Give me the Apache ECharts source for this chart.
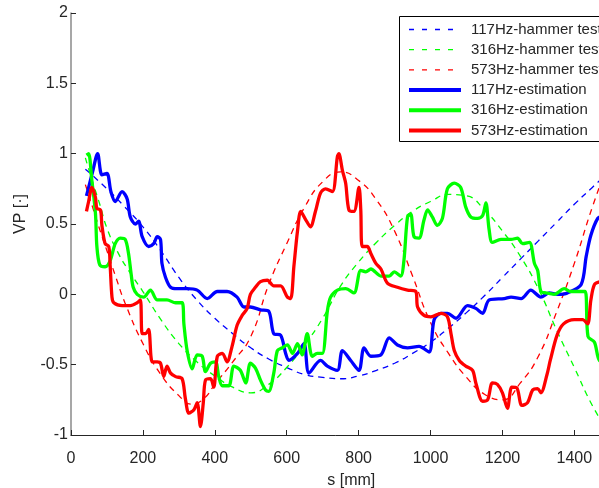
<!DOCTYPE html>
<html>
<head>
<meta charset="utf-8">
<script src="https://cdn.jsdelivr.net/npm/echarts@6/dist/echarts.min.js"></script>
<style>
html,body{margin:0;padding:0;background:#fff;}
#chart{width:599px;height:488px;}
</style>
</head>
<body>
<div id="chart"></div>
<script>
// ---- Data ----
var seriesNames = ['117Hz-hammer test','316Hz-hammer test','573Hz-hammer test','117Hz-estimation','316Hz-estimation','573Hz-estimation'];
var yTicks = [-1, -0.5, 0, 0.5, 1, 1.5, 2];
var xTicks = [0, 200, 400, 600, 800, 1000, 1200, 1400];

var blueTest = [[40,0.89],[100,0.75],[150,0.62],[200,0.48],[250,0.31],[300,0.12],[350,-0.04],[400,-0.17],[450,-0.28],[500,-0.38],[550,-0.46],[600,-0.52],[650,-0.57],[700,-0.59],[750,-0.60],[800,-0.58],[850,-0.54],[900,-0.49],[950,-0.42],[1000,-0.34],[1050,-0.24],[1100,-0.13],[1150,-0.01],[1200,0.12],[1250,0.25],[1300,0.38],[1350,0.51],[1400,0.64],[1450,0.76],[1500,0.88]];

var greenTest = [[40,0.97],[60,0.80],[80,0.64],[100,0.47],[130,0.30],[160,0.17],[200,0.02],[250,-0.18],[300,-0.35],[350,-0.48],[400,-0.58],[450,-0.66],[500,-0.70],[550,-0.64],[600,-0.52],[650,-0.36],[700,-0.17],[750,0.06],[800,0.23],[850,0.37],[900,0.49],[950,0.59],[1000,0.66],[1050,0.71],[1100,0.70],[1150,0.60],[1200,0.45],[1250,0.27],[1300,0.04],[1350,-0.25],[1400,-0.52],[1450,-0.79],[1500,-1.0]];

var redTest = [[40,0.78],[60,0.62],[80,0.46],[100,0.31],[125,0.12],[150,-0.06],[200,-0.35],[250,-0.57],[300,-0.72],[335,-0.78],[370,-0.74],[400,-0.64],[450,-0.48],[500,-0.30],[550,0.07],[600,0.36],[650,0.62],[700,0.80],[750,0.87],[800,0.81],[850,0.67],[900,0.45],[950,0.13],[1000,-0.20],[1050,-0.42],[1100,-0.59],[1150,-0.71],[1200,-0.75],[1250,-0.63],[1300,-0.44],[1350,-0.13],[1400,0.22],[1450,0.62],[1500,0.97]];

var blueEst = [[43,0.70],[60,0.87],[74,1.00],[86,0.85],[100,0.86],[111,0.73],[123,0.66],[142,0.73],[156,0.68],[165,0.55],[179,0.50],[188,0.52],[198,0.41],[216,0.34],[230,0.36],[240,0.41],[249,0.39],[253,0.22],[263,0.12],[277,0.05],[295,0.04],[323,0.04],[351,0.03],[379,-0.03],[407,0.02],[434,0.02],[462,-0.02],[481,-0.09],[499,-0.09],[527,-0.11],[550,-0.12],[564,-0.28],[583,-0.29],[597,-0.42],[606,-0.47],[630,-0.42],[648,-0.35],[662,-0.56],[694,-0.47],[713,-0.51],[741,-0.54],[755,-0.40],[778,-0.47],[801,-0.54],[815,-0.38],[834,-0.44],[862,-0.43],[885,-0.31],[908,-0.36],[936,-0.38],[968,-0.37],[996,-0.41],[1010,-0.18],[1029,-0.135],[1047,-0.135],[1071,-0.17],[1103,-0.08],[1126,-0.10],[1145,-0.135],[1163,-0.04],[1205,-0.03],[1224,-0.02],[1252,-0.03],[1279,0.03],[1307,-0.02],[1330,0.01],[1354,0.00],[1381,0.01],[1419,0.07],[1433,0.27],[1446,0.42],[1465,0.54],[1480,0.56],[1500,0.60]];

var greenEst = [[43,0.99],[49,1.00],[58,0.81],[68,0.575],[72,0.34],[80,0.21],[95,0.196],[109,0.24],[123,0.36],[137,0.40],[151,0.39],[160,0.29],[167,0.15],[173,0.05],[184,0.00],[202,-0.02],[221,0.03],[240,-0.04],[267,-0.04],[291,-0.06],[309,-0.06],[314,-0.21],[323,-0.40],[337,-0.53],[351,-0.43],[365,-0.44],[374,-0.55],[388,-0.49],[402,-0.48],[411,-0.585],[421,-0.65],[439,-0.65],[453,-0.51],[471,-0.54],[486,-0.63],[499,-0.49],[513,-0.525],[527,-0.61],[541,-0.68],[550,-0.69],[564,-0.56],[574,-0.40],[588,-0.38],[602,-0.36],[616,-0.42],[630,-0.35],[643,-0.43],[657,-0.28],[671,-0.44],[685,-0.42],[699,-0.42],[713,-0.12],[722,-0.02],[741,0.03],[764,0.04],[787,0.01],[806,0.17],[820,0.16],[834,0.18],[862,0.13],[885,0.13],[899,0.16],[917,0.13],[926,0.24],[936,0.55],[945,0.57],[954,0.41],[968,0.40],[982,0.53],[992,0.60],[1005,0.55],[1019,0.49],[1033,0.54],[1047,0.75],[1066,0.79],[1084,0.76],[1098,0.62],[1112,0.55],[1131,0.54],[1145,0.56],[1154,0.65],[1163,0.46],[1172,0.37],[1196,0.39],[1224,0.39],[1242,0.40],[1256,0.36],[1275,0.37],[1289,0.22],[1298,0.17],[1307,0.02],[1321,0.01],[1344,0.00],[1372,0.04],[1390,0.02],[1413,0.02],[1430,0.02],[1438,-0.30],[1456,-0.34],[1470,-0.47],[1500,-0.50]];

var redEst = [[43,0.59],[49,0.66],[58,0.76],[68,0.69],[72,0.61],[82,0.60],[86,0.49],[95,0.36],[105,0.34],[109,0.20],[114,-0.02],[119,-0.06],[142,-0.08],[165,-0.08],[184,-0.06],[193,-0.04],[198,-0.28],[207,-0.28],[216,-0.25],[226,-0.48],[240,-0.48],[249,-0.49],[258,-0.585],[267,-0.51],[277,-0.56],[291,-0.585],[309,-0.60],[318,-0.74],[328,-0.845],[342,-0.82],[351,-0.77],[360,-0.94],[368,-0.77],[374,-0.61],[388,-0.60],[397,-0.66],[407,-0.44],[421,-0.42],[434,-0.48],[448,-0.37],[462,-0.22],[476,-0.15],[490,-0.10],[499,0.00],[513,0.05],[527,0.09],[546,0.10],[564,0.06],[583,0.06],[602,-0.02],[611,-0.03],[620,0.20],[630,0.45],[639,0.59],[653,0.53],[666,0.48],[680,0.59],[694,0.72],[708,0.75],[727,0.73],[741,0.98],[745,1.00],[755,0.88],[764,0.79],[773,0.60],[787,0.59],[801,0.76],[806,0.60],[810,0.34],[824,0.34],[834,0.29],[848,0.22],[862,0.18],[880,0.08],[908,0.05],[936,0.03],[959,0.02],[964,-0.09],[982,-0.15],[1001,-0.16],[1029,-0.135],[1047,-0.16],[1057,-0.28],[1066,-0.40],[1080,-0.47],[1098,-0.51],[1117,-0.54],[1126,-0.63],[1145,-0.76],[1159,-0.75],[1172,-0.63],[1186,-0.64],[1200,-0.70],[1214,-0.81],[1226,-0.66],[1240,-0.665],[1254,-0.79],[1270,-0.77],[1284,-0.68],[1298,-0.67],[1307,-0.70],[1324,-0.57],[1333,-0.47],[1352,-0.29],[1370,-0.21],[1400,-0.18],[1423,-0.18],[1437,-0.21],[1446,-0.04],[1456,0.07],[1472,0.09],[1500,0.10]];

// ---- Chart ----
var FONT = '"Liberation Sans", Arial, Helvetica, sans-serif';
var TXT = '#262626';
var COLORS = ['#0000ff', '#00ff00', '#ff0000', '#0000ff', '#00ff00', '#ff0000'];
var chart = echarts.init(document.getElementById('chart'), null, {renderer: 'canvas'});

function dashed(name, data, color) {
  return {name: name, type: 'line', data: data, smooth: true, symbol: 'none', showSymbol: false,
    lineStyle: {color: color, width: 1.3, type: [6, 5]}, itemStyle: {color: color}, z: 2};
}
function solid(name, data, color) {
  return {name: name, type: 'line', data: data, smooth: 0.3, symbol: 'none', showSymbol: false,
    lineStyle: {color: color, width: 3.3}, itemStyle: {color: color}, z: 3};
}

var legendData = seriesNames.map(function (n, i) {
  var isDash = i < 3;
  return {
    name: n,
    itemStyle: {opacity: 0},
    lineStyle: isDash ? {width: 1.3, type: [5, 8], color: COLORS[i]} : {width: 4, type: 'solid', color: COLORS[i]}
  };
});

var option = {
  animation: false,
  backgroundColor: '#ffffff',
  textStyle: {fontFamily: FONT},
  grid: {left: 71, top: 13, width: 528.5, height: 422, containLabel: false, outerBoundsMode: 'none'},
  xAxis: {
    type: 'value', min: 0, max: 1470, interval: 200,
    name: 's [mm]', nameLocation: 'middle', nameGap: 38,
    nameTextStyle: {fontSize: 16, color: TXT, fontFamily: FONT, padding: [0, 0, 0, 32]},
    axisLine: {show: true, onZero: false, lineStyle: {color: TXT, width: 1}},
    axisTick: {show: true, inside: true, length: 5, lineStyle: {color: TXT}},
    axisLabel: {fontSize: 16, color: TXT, margin: 16, fontFamily: FONT, showMaxLabel: false,
      formatter: function (v) { return xTicks.indexOf(v) >= 0 ? String(v) : ''; }},
    splitLine: {show: false}
  },
  yAxis: {
    type: 'value', min: yTicks[0], max: yTicks[yTicks.length - 1], interval: 0.5,
    name: 'VP [·]', nameLocation: 'middle', nameGap: 42, nameRotate: 90,
    nameTextStyle: {fontSize: 16, color: TXT, fontFamily: FONT, padding: [0, 0, 0, 20]},
    axisLine: {show: true, onZero: false, lineStyle: {color: '#8a8a8a', width: 1.5}},
    axisTick: {show: true, inside: true, length: 5, lineStyle: {color: TXT}},
    axisLabel: {fontSize: 16, color: TXT, margin: 3, fontFamily: FONT, padding: [8, 0, 0, 0]},
    splitLine: {show: false}
  },
  legend: {
    data: legendData,
    orient: 'vertical', left: 399, top: 16,
    itemWidth: 52, itemHeight: 14, itemGap: 5.2,
    padding: [6, 8, 5, 8],
    textStyle: {fontSize: 15, color: TXT, fontFamily: FONT, padding: [0, 0, 0, 5]},
    selectedMode: false
  },
  graphic: [{
    type: 'rect', left: 399, top: 16, z: 1,
    shape: {width: 260, height: 125},
    style: {fill: '#fff', stroke: '#000', lineWidth: 1}
  }],
  series: [
    dashed(seriesNames[0], blueTest, COLORS[0]),
    dashed(seriesNames[1], greenTest, COLORS[1]),
    dashed(seriesNames[2], redTest, COLORS[2]),
    solid(seriesNames[3], blueEst, COLORS[3]),
    solid(seriesNames[4], greenEst, COLORS[4]),
    solid(seriesNames[5], redEst, COLORS[5])
  ]
};
chart.setOption(option);
</script>
</body>
</html>
